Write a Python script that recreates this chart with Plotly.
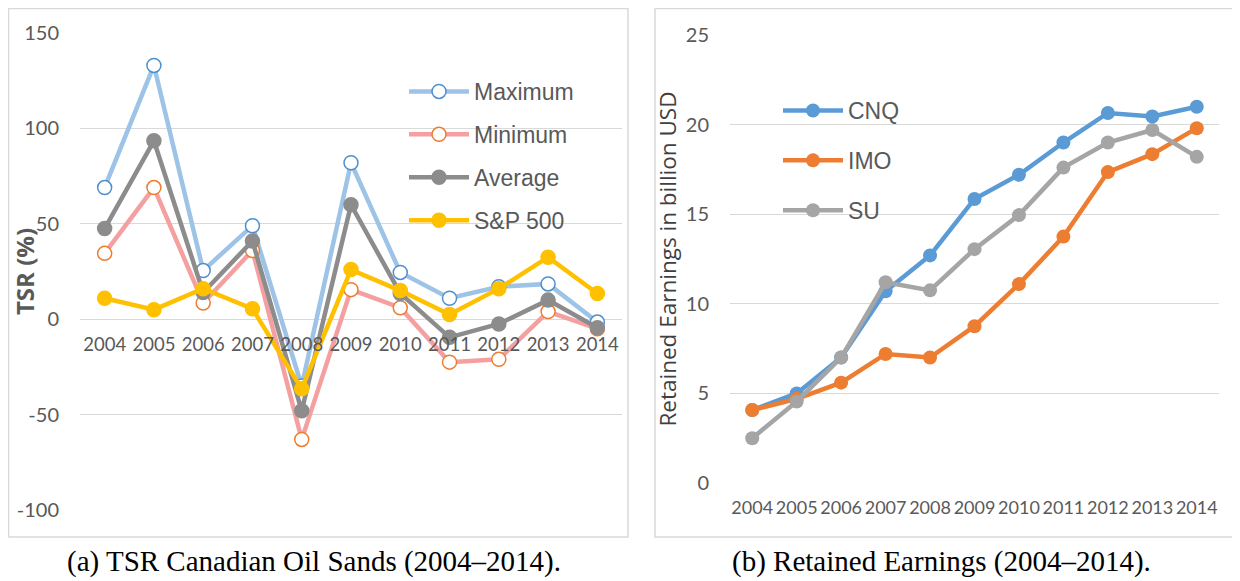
import plotly.graph_objects as go

# Data
years = ["2004", "2005", "2006", "2007", "2008", "2009", "2010", "2011", "2012", "2013", "2014"]

tsr_max = [69, 133, 25.5, 49, -35, 82, 24.5, 11, 17, 18.5, -1.5]
tsr_min = [34.5, 69, 8.5, 36, -63, 15.5, 6, -22.5, -21, 4, -5]
tsr_avg = [47.5, 93.5, 14, 41, -48, 60, 13.5, -9.5, -2.5, 10, -4.5]
tsr_sp500 = [11, 5, 16, 5.5, -36.5, 26, 15, 2.5, 16, 32.5, 13.5]
tsr_ticks = [-100, -50, 0, 50, 100, 150]
tsr_tick_labels = ["-100", "-50", "0", "50", "100", "150"]

re_cnq = [4.07, 5.0, 7.0, 10.7, 12.7, 15.85, 17.2, 19.0, 20.65, 20.45, 21.0]
re_imo = [4.07, 4.7, 5.6, 7.2, 7.0, 8.75, 11.1, 13.75, 17.35, 18.35, 19.8]
re_su = [2.5, 4.55, 7.0, 11.2, 10.75, 13.05, 14.95, 17.6, 19.0, 19.7, 18.2]

# the page body has an 8px margin, so the figure is drawn 8px smaller
OFF = 8
W, H = 1240 - OFF, 581 - OFF


def fx(x):
    return (x - OFF) / W


def fy(y):
    return 1 - (y - OFF) / H


TICK = "#595959"
GRID = "#D9D9D9"
FONT = "Lato"
LEG_FONT = "Liberation Sans"

fig = go.Figure()

# Left chart: TSR
left_series = [
    ("Maximum", tsr_max, "#9DC3E6", "#4F8FCF", True),
    ("Minimum", tsr_min, "#F4A0A0", "#ED7D31", True),
    ("Average", tsr_avg, "#8C8C8C", "#8C8C8C", False),
    ("S&P 500", tsr_sp500, "#FFC000", "#FFC000", False),
]
for i, (name, vals, lc, mc, hollow) in enumerate(left_series):
    fig.add_trace(go.Scatter(
        x=years, y=vals, name=name, mode="lines+markers",
        line=dict(color=lc, width=4.5),
        marker=dict(size=14, color="white" if hollow else mc,
                    line=dict(color=mc, width=1.5)),
        xaxis="x", yaxis="y", legend="legend", legendgroup="l%d" % i,
    ))

# Right chart: retained earnings
right_series = [
    ("CNQ", re_cnq, "#5B9BD5"),
    ("IMO", re_imo, "#ED7D31"),
    ("SU", re_su, "#A5A5A5"),
]
for i, (name, vals, c) in enumerate(right_series):
    fig.add_trace(go.Scatter(
        x=years, y=vals, name=name, mode="lines+markers",
        line=dict(color=c, width=4.5),
        marker=dict(size=14, color=c),
        xaxis="x2", yaxis="y2", legend="legend2", legendgroup="r%d" % i,
    ))

# panel frames
for x0, x1 in [(8.5, 628), (655, 1237)]:
    fig.add_shape(type="rect", xref="paper", yref="paper",
                  x0=fx(x0), x1=fx(x1), y0=fy(537), y1=fy(8.5),
                  line=dict(color=GRID, width=1.5), fillcolor="rgba(0,0,0,0)",
                  layer="below")

fig.update_layout(
    width=W, height=H,
    margin=dict(l=0, r=0, t=0, b=0, autoexpand=False),
    paper_bgcolor="white", plot_bgcolor="white",
    font=dict(family=FONT, color=TICK),
    xaxis=dict(domain=[fx(80), fx(622)], anchor="free", position=fy(320),
               range=[-0.5, 10.5], automargin=False, tickangle=0,
               showgrid=False, showline=False, zeroline=False,
               tickfont=dict(size=18.5, color=TICK), ticklabelstandoff=11),
    yaxis=dict(domain=[fy(510), fy(33)], range=[-100, 150],
               tickvals=tsr_ticks, ticktext=tsr_tick_labels,
               automargin=False,
               showgrid=True, gridcolor=GRID, gridwidth=1, zeroline=False,
               tickfont=dict(size=20, color=TICK), ticklabelstandoff=20,
               title=dict(text="<b>TSR (%)</b>",
                          font=dict(family="Open Sans", size=24, color=TICK),
                          standoff=1)),
    xaxis2=dict(domain=[fx(730), fx(1219)], anchor="y2", range=[-0.5, 10.5],
                automargin=False, tickangle=0,
                showgrid=False, showline=False, zeroline=False,
                tickfont=dict(size=18, color=TICK), ticklabelstandoff=12),
    yaxis2=dict(domain=[fy(483), fy(35)], range=[0, 25], dtick=5,
                anchor="x2", automargin=False,
                showgrid=True, gridcolor=GRID, gridwidth=1, zeroline=False,
                tickfont=dict(size=20, color=TICK), ticklabelstandoff=20,
                title=dict(text="Retained Earnings in billion USD",
                           font=dict(family="Open Sans", size=22.5, color="#404040"),
                           standoff=2)),
    legend=dict(x=fx(404), y=fy(70), xanchor="left", yanchor="top",
                bgcolor="rgba(0,0,0,0)", font=dict(family=LEG_FONT, size=23, color=TICK),
                tracegroupgap=10, itemwidth=60),
    legend2=dict(x=fx(778), y=fy(89), xanchor="left", yanchor="top",
                 bgcolor="rgba(0,0,0,0)", font=dict(family=LEG_FONT, size=23, color=TICK),
                 tracegroupgap=17, itemwidth=60),
)

captions = [
    ("(a) TSR Canadian Oil Sands (2004\u20132014).", 314),
    ("(b) Retained Earnings (2004\u20132014).", 941),
]
for text, cx in captions:
    fig.add_annotation(text=text, xref="paper", yref="paper",
                       x=fx(cx), y=fy(561), xanchor="center", yanchor="middle",
                       showarrow=False,
                       font=dict(family="Liberation Serif", size=29, color="black"))

fig.write_html("out.html")
